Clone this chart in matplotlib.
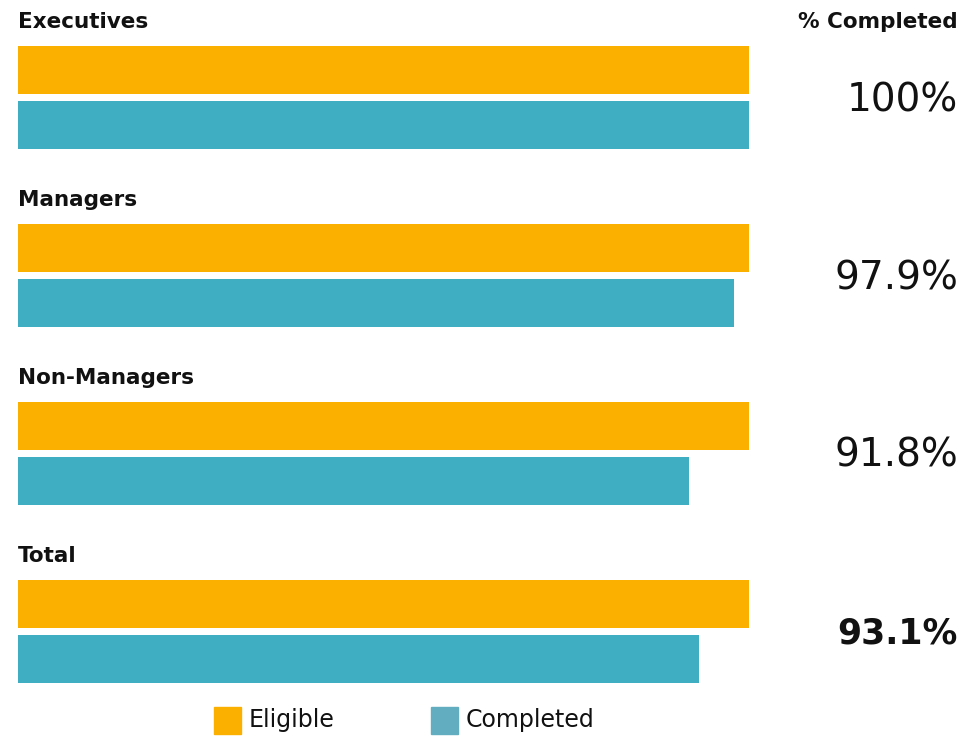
import matplotlib
matplotlib.use("Agg")
import matplotlib.pyplot as plt
from matplotlib.patches import Rectangle

categories = ["Executives", "Managers", "Non-Managers", "Total"]
eligible = [100, 100, 100, 100]
completed = [100, 97.9, 91.8, 93.1]
pct_labels = ["100%", "97.9%", "91.8%", "93.1%"]

ORANGE = "#FBB000"
TEAL = "#40AEC2"
TEAL_LEGEND = "#62AEC0"
INK = "#111111"

W, H = 964, 737
fig = plt.figure(figsize=(W / 100, H / 100), dpi=100)
fig.patch.set_facecolor("white")

def fx(x):
    return x / W

def fy(y):
    return 1 - y / H

# Bar area: x spans 18..749 px, y in pixel rows (top down)
ax = fig.add_axes([fx(18), 0, (749 - 18) / W, 1])
ax.set_xlim(0, 100)
ax.set_ylim(H, 0)
ax.axis("off")

group_step = 178
bar_h = 48
for i, cat in enumerate(categories):
    y_elig = 70 + group_step * i
    y_comp = 125 + group_step * i
    ax.barh(y_elig, eligible[i], height=bar_h, color=ORANGE, left=0)
    ax.barh(y_comp, completed[i], height=bar_h, color=TEAL, left=0)
    fig.text(fx(18), fy(22 + group_step * i), cat, fontsize=15.5, fontweight="bold",
             ha="left", va="center", color=INK, family="DejaVu Sans")
    bold = cat == "Total"
    fig.text(fx(958), fy(100 + group_step * i), pct_labels[i],
             fontsize=25 if bold else 28, fontweight="bold" if bold else "normal",
             ha="right", va="center", color=INK, family="DejaVu Sans")

fig.text(fx(958), fy(22), "% Completed", fontsize=15.5, fontweight="bold",
         ha="right", va="center", color=INK, family="DejaVu Sans")

# Legend
for x0, col, label in [(214, ORANGE, "Eligible"), (431, TEAL_LEGEND, "Completed")]:
    fig.patches.append(Rectangle((fx(x0), fy(734)), 27 / W, 27 / H,
                                 transform=fig.transFigure, color=col))
    fig.text(fx(x0 + 35), fy(720), label, fontsize=17, ha="left", va="center",
             color=INK, family="DejaVu Sans")

fig.savefig("out.png", dpi=100)
